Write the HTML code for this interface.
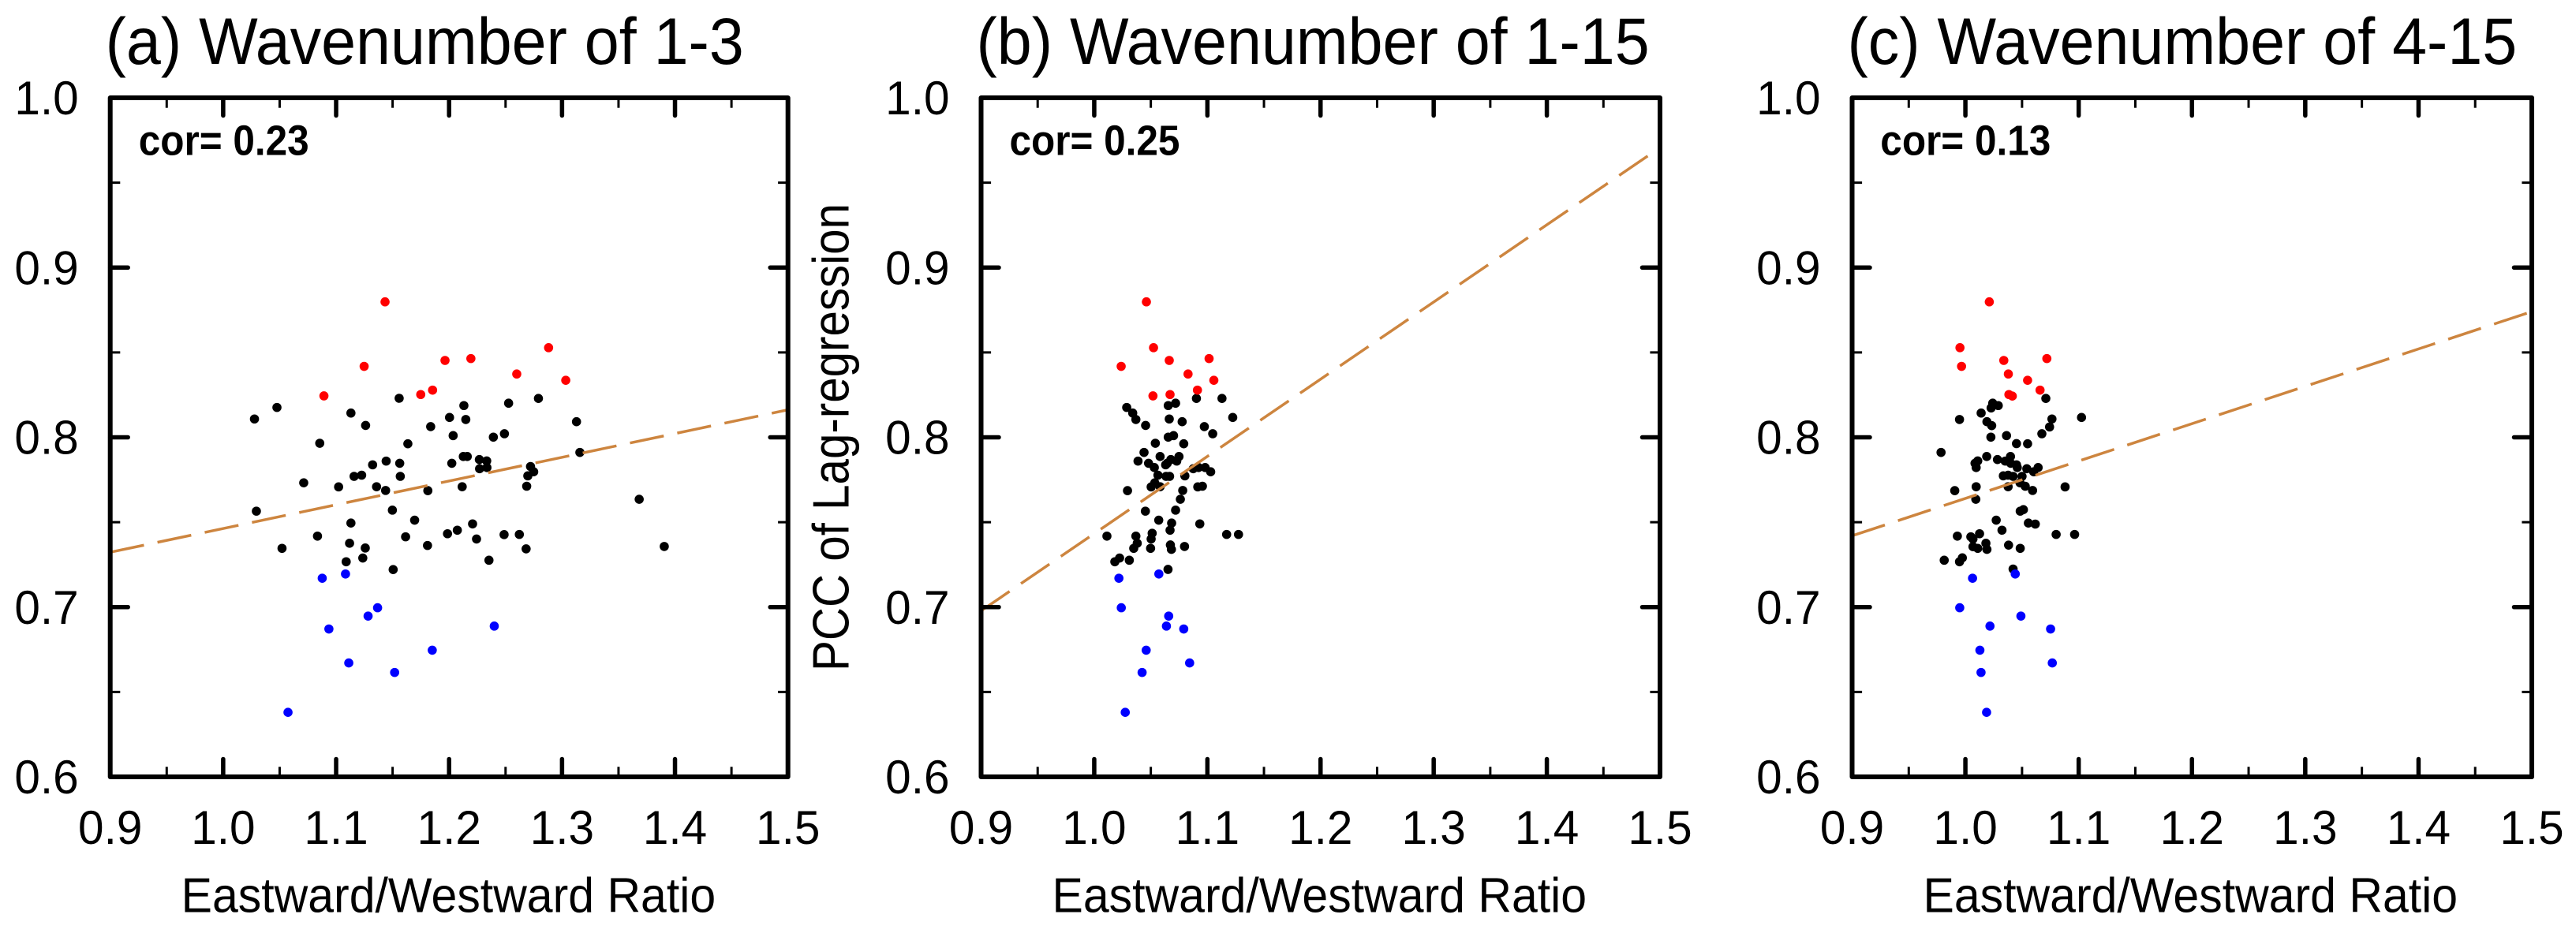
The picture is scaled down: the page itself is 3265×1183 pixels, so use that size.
<!DOCTYPE html>
<html lang="en">
<head>
<meta charset="utf-8">
<title>PCC of Lag-regression vs Eastward/Westward Ratio</title>
<style>
html,body{margin:0;padding:0;background:#fff;}
svg{display:block;}
text{font-family:"Liberation Sans",Arial,sans-serif;fill:#000;}
</style>
</head>
<body>
<svg id="figure" xmlns="http://www.w3.org/2000/svg" width="3265" height="1183" viewBox="0 0 3265 1183">
  <rect x="0" y="0" width="3265" height="1183" fill="#fff"/>
  <g id="panel-a"></g>
  <g id="panel-b"></g>
  <g id="panel-c"></g>

  <text transform="translate(133.6,81) scale(1,1.06)" font-size="79">(a) Wavenumber of 1-3</text>
  <text transform="translate(1237.5,81) scale(1,1.06)" font-size="79">(b) Wavenumber of 1-15</text>
  <text transform="translate(2341.5,81) scale(1,1.06)" font-size="79">(c) Wavenumber of 4-15</text>

  <text transform="translate(175.7,196.6) scale(1,1.08)" font-size="49.5" font-weight="bold">cor= 0.23</text>
  <text transform="translate(1279.5,196.6) scale(1,1.08)" font-size="49.5" font-weight="bold">cor= 0.25</text>
  <text transform="translate(2383.3,196.6) scale(1,1.08)" font-size="49.5" font-weight="bold">cor= 0.13</text>

  <text transform="translate(229.6,1156.5) scale(1,1.05)" font-size="59">Eastward/Westward Ratio</text>
  <text transform="translate(1333.5,1156.5) scale(1,1.05)" font-size="59">Eastward/Westward Ratio</text>
  <text transform="translate(2437.5,1156.5) scale(1,1.05)" font-size="59">Eastward/Westward Ratio</text>

  <text transform="translate(1075.5,851) rotate(-90) scale(1,1.11)" font-size="58.3" textLength="593" lengthAdjust="spacingAndGlyphs">PCC of Lag-regression</text>
</svg>
<script>
// Axis values
const xMajorTicks = [0.9, 1.0, 1.1, 1.2, 1.3, 1.4, 1.5];
const xMinorTicks = [0.95, 1.05, 1.15, 1.25, 1.35, 1.45];
const yMajorTicks = [0.6, 0.7, 0.8, 0.9, 1.0];
const yMinorTicks = [0.65, 0.75, 0.85, 0.95];
const xTickLabels = ["0.9", "1.0", "1.1", "1.2", "1.3", "1.4", "1.5"];
const yTickLabels = ["0.6", "0.7", "0.8", "0.9", "1.0"];

// Panel (a) Wavenumber of 1-3
const aBlackX = [1.1558,1.2791,1.0476,1.2527,1.2131,1.1131,1.0277,1.2004,1.2148,1.1261,1.1837,1.3128,1.2036,1.2490,1.2392,1.0855,1.1635,1.2126,1.2161,1.2268,1.2333,1.1443,1.1563,1.2024,1.1323,1.2270,1.2335,1.2721,1.2749,1.2697,1.1226,1.1159,1.1568,1.3158,1.0713,1.1022,1.1358,1.2116,1.2687,1.1438,1.1812,1.3683,1.0294,1.1498,1.1695,1.1131,1.2208,1.2073,1.1986,1.2487,1.2622,1.0835,1.1615,1.2243,1.1119,1.1809,1.1258,1.0521,1.2682,1.3905,1.1236,1.2353,1.1089,1.1505];
const aBlackY = [0.8230,0.8229,0.8176,0.8201,0.8187,0.8143,0.8108,0.8117,0.8105,0.8070,0.8063,0.8092,0.8010,0.8021,0.8001,0.7965,0.7962,0.7887,0.7887,0.7869,0.7861,0.7860,0.7847,0.7847,0.7838,0.7815,0.7822,0.7828,0.7797,0.7773,0.7777,0.7770,0.7770,0.7911,0.7732,0.7708,0.7709,0.7709,0.7712,0.7687,0.7686,0.7635,0.7565,0.7571,0.7512,0.7495,0.7490,0.7453,0.7432,0.7427,0.7428,0.7418,0.7414,0.7401,0.7376,0.7363,0.7348,0.7346,0.7343,0.7357,0.7289,0.7276,0.7267,0.7221];
const aRedX = [1.1433,1.2881,1.1964,1.2193,1.1248,1.2599,1.3033,1.1854,1.1749,1.0892];
const aRedY = [0.8798,0.8528,0.8453,0.8464,0.8418,0.8373,0.8336,0.8278,0.8252,0.8244];
const aBlueX = [1.0877,1.1083,1.1367,1.1283,1.0936,1.2400,1.1851,1.1112,1.1518,1.0574];
const aBlueY = [0.7170,0.7195,0.6996,0.6947,0.6871,0.6888,0.6746,0.6671,0.6615,0.6380];
const aFitX = [0.9, 1.5];
const aFitY = [0.7323, 0.8162];

// Panel (b) Wavenumber of 1-15
const bBlackX = [1.0903,1.1129,1.0719,1.0654,1.0287,1.0340,1.0663,1.0368,1.0777,1.1224,1.0454,1.0973,1.1047,1.0701,1.0654,1.0540,1.0791,1.0440,1.0582,1.0749,1.0677,1.0729,1.0387,1.0480,1.0645,1.0631,1.0531,1.0875,1.0922,1.0980,1.1029,1.0801,1.0563,1.0635,1.0666,1.0535,1.0582,1.0503,1.0956,1.0915,1.0782,1.0294,1.0761,1.0452,1.0719,1.0570,1.0684,1.0933,1.0670,1.0512,1.1170,1.1275,1.0368,1.0112,1.0503,1.0380,1.0673,1.0798,1.0349,1.0498,1.0682,1.0224,1.0310,1.0182,1.0652];
const bBlackY = [0.8229,0.8229,0.8201,0.8187,0.8176,0.8143,0.8108,0.8105,0.8092,0.8117,0.8070,0.8063,0.8021,0.8010,0.8001,0.7965,0.7962,0.7911,0.7887,0.7887,0.7869,0.7860,0.7860,0.7847,0.7847,0.7838,0.7822,0.7815,0.7822,0.7822,0.7797,0.7773,0.7777,0.7770,0.7770,0.7732,0.7709,0.7708,0.7712,0.7708,0.7687,0.7686,0.7635,0.7565,0.7571,0.7512,0.7495,0.7490,0.7453,0.7435,0.7428,0.7428,0.7418,0.7418,0.7401,0.7376,0.7366,0.7357,0.7346,0.7346,0.7340,0.7289,0.7276,0.7267,0.7222];
const bRedX = [1.0461,1.0524,1.0663,1.1015,1.0238,1.0829,1.1057,1.0912,1.0670,1.0519];
const bRedY = [0.8798,0.8528,0.8453,0.8464,0.8418,0.8373,0.8336,0.8278,0.8252,0.8244];
const bBlueX = [1.0218,1.0571,1.0239,1.0658,1.0791,1.0638,1.0459,1.0843,1.0423,1.0274];
const bBlueY = [0.7170,0.7195,0.6996,0.6947,0.6871,0.6888,0.6746,0.6671,0.6615,0.6380];
const bFitX = [0.9, 1.49];
const bFitY = [0.6978, 0.9661];

// Panel (c) Wavenumber of 4-15
const cBlackX = [1.0710,1.0241,1.0290,1.0227,1.0139,0.9948,1.0764,1.0190,1.0232,1.1025,1.0743,1.0675,1.0363,1.0225,1.0451,1.0549,0.9785,1.0188,1.0398,1.0109,1.0283,1.0085,1.0351,1.0400,1.0451,1.0095,1.0458,1.0542,1.0642,1.0603,1.0335,1.0377,1.0421,1.0500,1.0482,1.0095,1.0377,1.0528,1.0880,0.9906,1.0593,1.0092,1.0512,1.0484,1.0272,1.0556,1.0617,1.0323,1.0125,1.0801,1.0964,0.9929,1.0048,1.0067,1.0181,1.0067,1.0381,1.0109,1.0190,1.0484,0.9973,0.9813,0.9948,1.0421];
const cBlackY = [0.8229,0.8201,0.8187,0.8173,0.8143,0.8105,0.8108,0.8092,0.8069,0.8117,0.8061,0.8021,0.8010,0.8001,0.7963,0.7962,0.7911,0.7887,0.7887,0.7861,0.7869,0.7847,0.7860,0.7847,0.7838,0.7822,0.7822,0.7815,0.7822,0.7797,0.7773,0.7777,0.7770,0.7770,0.7732,0.7709,0.7709,0.7712,0.7708,0.7686,0.7687,0.7635,0.7574,0.7565,0.7512,0.7495,0.7489,0.7453,0.7432,0.7428,0.7428,0.7418,0.7414,0.7401,0.7376,0.7356,0.7365,0.7346,0.7340,0.7346,0.7290,0.7276,0.7267,0.7224];
const cRedX = [1.0211,0.9952,1.0339,1.0719,0.9966,1.0379,1.0549,1.0659,1.0384,1.0414];
const cRedY = [0.8798,0.8528,0.8453,0.8464,0.8418,0.8373,0.8336,0.8278,0.8252,0.8243];
const cBlueX = [1.0063,1.0440,0.9950,1.0490,1.0752,1.0217,1.0128,1.0767,1.0138,1.0187];
const cBlueY = [0.7170,0.7195,0.6996,0.6947,0.6871,0.6888,0.6746,0.6671,0.6615,0.6380];
const cFitX = [0.9, 1.4965];
const cFitY = [0.7420, 0.8733];

const SVG_NS = "http://www.w3.org/2000/svg";
const plotTop = 124;
const plotBottom = 985;

function make(tag, attrs) {
  const node = document.createElementNS(SVG_NS, tag);
  for (const key in attrs) node.setAttribute(key, attrs[key]);
  return node;
}

function drawPanel(root, id, left, right, blackX, blackY, redX, redY, blueX, blueY, fitX, fitY) {
  const sx = v => left + (v - 0.9) / 0.6 * (right - left);
  const sy = v => plotBottom - (v - 0.6) / 0.4 * (plotBottom - plotTop);

  blackX.forEach((v, i) => {
    const el = make("circle", {cx: sx(v), cy: sy(blackY[i]), r: 5.8, fill: "#000"});
    
    
    root.appendChild(el);
  });
  redX.forEach((v, i) => {
    const el = make("circle", {cx: sx(v), cy: sy(redY[i]), r: 5.8, fill: "#ff0000"});
    
    
    root.appendChild(el);
  });
  blueX.forEach((v, i) => {
    const el = make("circle", {cx: sx(v), cy: sy(blueY[i]), r: 5.8, fill: "#0000ff"});
    
    
    root.appendChild(el);
  });

  const fit = make("line", {x1: sx(fitX[0]), y1: sy(fitY[0]), x2: sx(fitX[1]), y2: sy(fitY[1]), stroke: "#cd853f", "stroke-width": 3.5, "stroke-dasharray": "43.7 17.5"});
  
  
  root.appendChild(fit);

  const frame = make("rect", {x: left, y: plotTop, width: right - left, height: plotBottom - plotTop, fill: "none", stroke: "#000", "stroke-width": 6, "stroke-linejoin": "round"});
  
  
  root.appendChild(frame);

  xMajorTicks.forEach((v, i) => {
    if (i > 0 && i < xMajorTicks.length - 1) {
      [[plotTop, plotTop + 22.5], [plotBottom, plotBottom - 22.5]].forEach(p => {
        const el = make("line", {x1: sx(v), x2: sx(v), y1: p[0], y2: p[1], stroke: "#000", "stroke-width": 5.5, "stroke-linecap": "round"});
        
        
        root.appendChild(el);
      });
    }
    const label = make("text", {transform: "translate(" + sx(v) + ",1070) scale(1,1.03)", "font-size": 58.5, "text-anchor": "middle"});
    label.textContent = xTickLabels[i];
    
    
    root.appendChild(label);
  });
  xMinorTicks.forEach(v => {
    [[plotTop, plotTop + 12.7], [plotBottom, plotBottom - 12.7]].forEach(p => {
      const el = make("line", {x1: sx(v), x2: sx(v), y1: p[0], y2: p[1], stroke: "#000", "stroke-width": 3});
      
      
      root.appendChild(el);
    });
  });
  yMajorTicks.forEach((v, i) => {
    if (i > 0 && i < yMajorTicks.length - 1) {
      [[left, left + 22.5], [right, right - 22.5]].forEach(p => {
        const el = make("line", {x1: p[0], x2: p[1], y1: sy(v), y2: sy(v), stroke: "#000", "stroke-width": 5.5, "stroke-linecap": "round"});
        
        
        root.appendChild(el);
      });
    }
    const label = make("text", {transform: "translate(" + (left - 40) + "," + (sy(v) + 21) + ") scale(1,1.03)", "font-size": 58.5, "text-anchor": "end"});
    label.textContent = yTickLabels[i];
    
    
    root.appendChild(label);
  });
  yMinorTicks.forEach(v => {
    [[left, left + 12.6], [right, right - 12.6]].forEach(p => {
      const el = make("line", {x1: p[0], x2: p[1], y1: sy(v), y2: sy(v), stroke: "#000", "stroke-width": 3});
      
      
      root.appendChild(el);
    });
  });
}

drawPanel(document.getElementById("panel-a"), "a", 139.7, 998.7, aBlackX, aBlackY, aRedX, aRedY, aBlueX, aBlueY, aFitX, aFitY);
drawPanel(document.getElementById("panel-b"), "b", 1243.5, 2104, bBlackX, bBlackY, bRedX, bRedY, bBlueX, bBlueY, bFitX, bFitY);
drawPanel(document.getElementById("panel-c"), "c", 2347.5, 3209, cBlackX, cBlackY, cRedX, cRedY, cBlueX, cBlueY, cFitX, cFitY);
</script>
</body>
</html>
